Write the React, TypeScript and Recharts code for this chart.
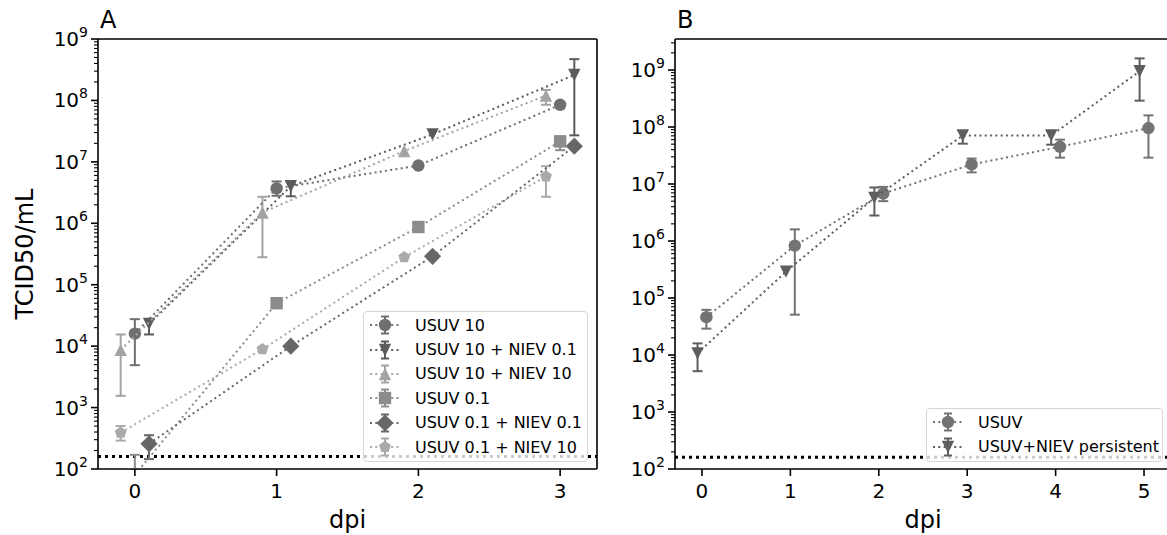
import React from "react";
import {
  ScatterChart,
  Scatter,
  XAxis,
  YAxis,
  ErrorBar,
  ReferenceLine,
  Legend,
} from "recharts";

const FONT = "'DejaVu Sans', sans-serif";

// ---- panel A: titers per inoculum group, 0-3 dpi ----
const daysA = [0, 1, 2, 3];
const namesA = [
  "USUV 10",
  "USUV 10 + NIEV 0.1",
  "USUV 10 + NIEV 10",
  "USUV 0.1",
  "USUV 0.1 + NIEV 0.1",
  "USUV 0.1 + NIEV 10",
];
const shapesA = ["circle", "triangleDown", "triangleUp", "square", "diamond", "pentagon"];
const colorsA = ["#6f6f6f", "#5b5b5b", "#a3a3a3", "#8c8c8c", "#676767", "#aaaaaa"];
const offsetsA = [0, 0.1, -0.1, 0, 0.1, -0.1];
const meanA = [
  [1.6e4, 3.7e6, 8.7e6, 8.5e7],
  [2.3e4, 4.0e6, 2.8e7, 2.6e8],
  [8.7e3, 1.5e6, 1.5e7, 1.2e8],
  [80, 5.0e4, 8.7e5, 2.15e7],
  [257, 1.0e4, 2.9e5, 1.8e7],
  [390, 8.9e3, 2.8e5, 5.8e6],
];
// lower bound of USUV 0.1 at day 0 sits at the axis floor
const lowA = [
  [4.9e3, 2.8e6, null, null],
  [1.55e4, 2.75e6, null, 2.7e7],
  [1.55e3, 2.8e5, null, 8.5e7],
  [100, null, null, 1.55e7],
  [145, null, null, null],
  [290, null, null, 2.7e6],
];
const highA = [
  [2.75e4, 4.8e6, null, null],
  [2.75e4, 4.7e6, null, 4.7e8],
  [1.55e4, 2.7e6, null, 1.48e8],
  [170, null, null, 2.6e7],
  [355, null, null, null],
  [500, null, null, 8.5e6],
];

// ---- panel B: USUV alone vs. persistent NIEV co-infection, 0-5 dpi ----
const daysB = [0, 1, 2, 3, 4, 5];
const namesB = ["USUV", "USUV+NIEV persistent"];
const shapesB = ["circle", "triangleDown"];
const colorsB = ["#737373", "#5e5e5e"];
const offsetsB = [0.05, -0.05];
const meanB = [
  [4.6e4, 8.3e5, 6.8e6, 2.2e7, 4.5e7, 9.6e7],
  [1.07e4, 2.9e5, 5.7e6, 7.1e7, 7.1e7, 9.5e8],
];
const lowB = [
  [2.9e4, 5.1e4, 5.0e6, 1.6e7, 2.9e7, 2.9e7],
  [5.2e3, null, 2.8e6, 5.1e7, 4.9e7, 2.9e8],
];
const highB = [
  [6.2e4, 1.6e6, 8.9e6, 2.8e7, 6.0e7, 1.6e8],
  [1.6e4, null, 8.7e6, 8.5e7, 8.5e7, 1.6e9],
];

// detection limit
const LOD = 160;

const exponents = [2, 3, 4, 5, 6, 7, 8, 9];

function logTicks(max: number) {
  const out: number[] = [];
  exponents.forEach((e) => {
    for (let m = 1; m <= 9; m++) {
      const v = m * Math.pow(10, e);
      if (v <= max) out.push(v);
    }
  });
  return out;
}

type Pt = { x: number; y: number; err?: [number, number] };

function buildPoints(days: number[], offset: number, mean: number[], low: (number | null)[], high: (number | null)[]): Pt[] {
  return days.map((d, i) => {
    const p: Pt = { x: d + offset, y: mean[i] };
    const lo = low[i];
    const hi = high[i];
    if (lo != null && hi != null) p.err = [mean[i] - lo, hi - mean[i]];
    return p;
  });
}

function Marker({ cx, cy, kind, color }: { cx: number; cy: number; kind: string; color: string }) {
  if (cx == null || cy == null || isNaN(cx) || isNaN(cy)) return null;
  const r = 6.2;
  switch (kind) {
    case "circle":
      return <circle cx={cx} cy={cy} r={r} fill={color} />;
    case "triangleDown":
      return <polygon points={`${cx},${cy + r} ${cx - r},${cy - r} ${cx + r},${cy - r}`} fill={color} />;
    case "triangleUp":
      return <polygon points={`${cx},${cy - r} ${cx - r},${cy + r} ${cx + r},${cy + r}`} fill={color} />;
    case "square":
      return <rect x={cx - r} y={cy - r} width={2 * r} height={2 * r} fill={color} />;
    case "diamond": {
      const d = 8.6;
      return <polygon points={`${cx},${cy - d} ${cx + d},${cy} ${cx},${cy + d} ${cx - d},${cy}`} fill={color} />;
    }
    case "pentagon": {
      const pts = [0, 1, 2, 3, 4]
        .map((k) => {
          const a = (-90 + 72 * k) * (Math.PI / 180);
          return `${cx + r * Math.cos(a)},${cy + r * Math.sin(a)}`;
        })
        .join(" ");
      return <polygon points={pts} fill={color} />;
    }
    default:
      return null;
  }
}

const YTick = (props: any) => {
  const { x, y, payload } = props;
  const v = payload.value;
  const exp = Math.round(Math.log10(v));
  const major = Math.abs(v - Math.pow(10, exp)) < 1e-6 * v;
  return (
    <g>
      <line x1={x} x2={x - (major ? 7 : 4)} y1={y} y2={y} stroke="#000" strokeWidth={major ? 1.6 : 1.1} />
      {major && (
        <text x={x - 10} y={y + 7} textAnchor="end" fontSize={20} fontFamily={FONT} fill="#000">
          10
          <tspan dy={-9} fontSize={14}>
            {exp}
          </tspan>
        </text>
      )}
    </g>
  );
};

type LegendItem = { name: string; kind: string; color: string };

function LegendBox({ items }: { items: LegendItem[] }) {
  return (
    <div
      style={{
        background: "rgba(255,255,255,0.8)",
        border: "1px solid #d6d6d6",
        borderRadius: 4,
        paddingTop: 1,
        paddingBottom: 2,
        fontFamily: FONT,
        fontSize: 16,
        color: "#000",
      }}
    >
      {items.map((it) => (
        <div key={it.name} style={{ display: "flex", alignItems: "center", height: 24.4 }}>
          <svg width={51} height={24} style={{ flex: "none" }}>
            <line x1={6} x2={37} y1={12} y2={12} stroke={it.color} strokeWidth={2} strokeDasharray="2 3.3" />
            <line x1={21} x2={21} y1={3.5} y2={20.5} stroke={it.color} strokeWidth={2} />
            <line x1={17} x2={25} y1={3.5} y2={3.5} stroke={it.color} strokeWidth={2} />
            <line x1={17} x2={25} y1={20.5} y2={20.5} stroke={it.color} strokeWidth={2} />
            <Marker cx={21} cy={12} kind={it.kind} color={it.color} />
          </svg>
          <span style={{ whiteSpace: "nowrap" }}>{it.name}</span>
        </div>
      ))}
    </div>
  );
}

type PanelProps = {
  letter: string;
  width: number;
  marginRight: number;
  yWidth: number;
  xDomain: [number, number];
  xTicks: number[];
  yMax: number;
  series: { name: string; kind: string; color: string; points: Pt[] }[];
  legendPos: { left: number; top: number; width: number };
  yLabel?: string;
};

function Panel({ letter, width, marginRight, yWidth, xDomain, xTicks, yMax, series, legendPos, yLabel }: PanelProps) {
  const axisStroke = { stroke: "#000", strokeWidth: 1.6 };
  return (
    <ScatterChart width={width} height={535} margin={{ top: 39, right: marginRight, bottom: 0, left: 0 }}>
      <XAxis
        type="number"
        dataKey="x"
        domain={xDomain}
        ticks={xTicks}
        allowDataOverflow
        height={66}
        tickSize={7}
        tickMargin={8}
        interval={0}
        tick={{ fill: "#000", fontSize: 20, fontFamily: FONT }}
        tickLine={axisStroke}
        axisLine={axisStroke}
        label={(p: any) => {
          const vb = p.viewBox;
          return (
            <text x={vb.x + vb.width / 2} y={vb.y + 59} textAnchor="middle" fontSize={24} fontFamily={FONT} fill="#000">
              dpi
            </text>
          );
        }}
      />
      <YAxis
        type="number"
        dataKey="y"
        scale="log"
        domain={[100, yMax]}
        allowDataOverflow
        ticks={logTicks(yMax)}
        interval={0}
        width={yWidth}
        tickSize={0}
        tickMargin={0}
        tickLine={false}
        tick={<YTick />}
        axisLine={axisStroke}
        label={
          yLabel
            ? (p: any) => {
                const vb = p.viewBox;
                const cy = vb.y + vb.height / 2;
                return (
                  <text x={33} y={cy} transform={`rotate(-90, 33, ${cy})`} textAnchor="middle" fontSize={24} fontFamily={FONT} fill="#000">
                    {yLabel}
                  </text>
                );
              }
            : undefined
        }
      />
      {/* frame: top and right spines, panel letter above the top spine */}
      <ReferenceLine
        y={yMax}
        ifOverflow="visible"
        stroke="#000"
        strokeWidth={1.6}
        label={(p: any) => (
          <text x={p.viewBox.x + 2} y={28} fontSize={24} fontFamily={FONT} fill="#000">
            {letter}
          </text>
        )}
      />
      <ReferenceLine x={xDomain[1]} ifOverflow="visible" stroke="#000" strokeWidth={1.6} />
      <ReferenceLine y={LOD} stroke="#000" strokeWidth={3} strokeDasharray="3 4" />
      {series.map((s) => (
        <Scatter
          key={s.name}
          name={s.name}
          data={s.points}
          fill={s.color}
          isAnimationActive={false}
          line={{ stroke: s.color, strokeWidth: 2, strokeDasharray: "2 3.3" }}
          lineType="joint"
          shape={(p: any) => <Marker cx={p.cx} cy={p.cy} kind={s.kind} color={s.color} />}
        >
          <ErrorBar dataKey="err" direction="y" width={5} stroke={s.color} strokeWidth={2} />
        </Scatter>
      ))}
      <Legend
        layout="vertical"
        verticalAlign="middle"
        align="center"
        wrapperStyle={{ left: legendPos.left, top: legendPos.top, width: legendPos.width, height: "auto" }}
        content={() => <LegendBox items={series.map((s) => ({ name: s.name, kind: s.kind, color: s.color }))} />}
      />
    </ScatterChart>
  );
}

export default function App() {
  const seriesA = namesA.map((name, i) => ({
    name,
    kind: shapesA[i],
    color: colorsA[i],
    points: buildPoints(daysA, offsetsA[i], meanA[i], lowA[i], highA[i]),
  }));
  const seriesB = namesB.map((name, i) => ({
    name,
    kind: shapesB[i],
    color: colorsB[i],
    points: buildPoints(daysB, offsetsB[i], meanB[i], lowB[i], highB[i]),
  }));

  return (
    <div style={{ position: "fixed", left: 0, top: 0, width: 1167, height: 535, overflow: "hidden", background: "#fff" }}>
      <div style={{ position: "absolute", left: 0, top: 0 }}>
        <Panel
          letter="A"
          width={610}
          marginRight={13}
          yWidth={98}
          xDomain={[-0.26, 3.26]}
          xTicks={daysA}
          yMax={1e9}
          series={seriesA}
          legendPos={{ left: 363, top: 311, width: 225 }}
          yLabel="TCID50/mL"
        />
      </div>
      <div style={{ position: "absolute", left: 600, top: 0 }}>
        <Panel
          letter="B"
          width={580}
          marginRight={9}
          yWidth={75}
          xDomain={[-0.305, 5.305]}
          xTicks={daysB}
          yMax={3.5e9}
          series={seriesB}
          legendPos={{ left: 326, top: 408, width: 237 }}
        />
      </div>
    </div>
  );
}
